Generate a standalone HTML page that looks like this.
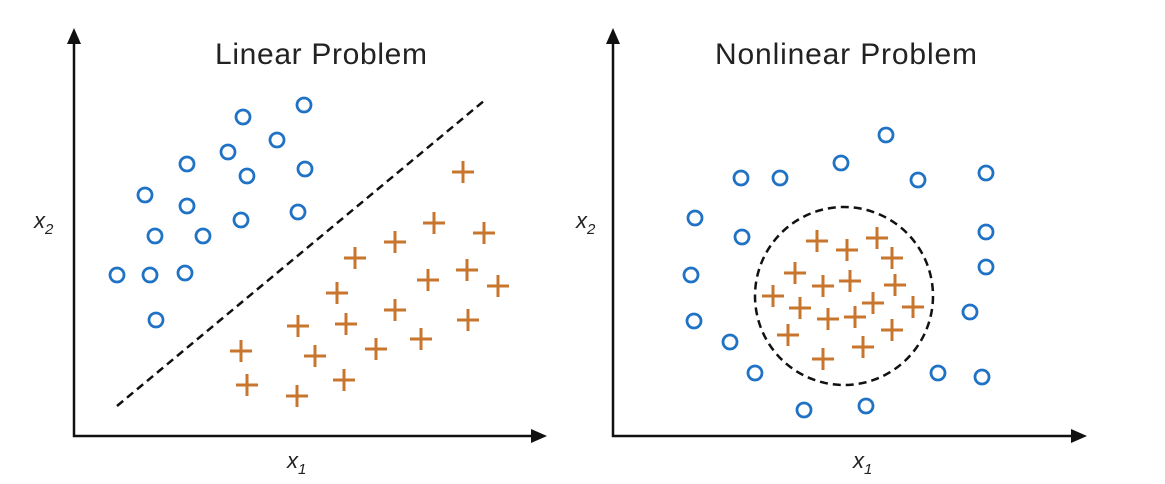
<!DOCTYPE html>
<html><head><style>body{margin:0;background:#fff}svg{display:block}</style></head><body>
<svg width="1165" height="484" viewBox="0 0 1165 484" xmlns="http://www.w3.org/2000/svg">
<defs>
<g id="o"><circle r="7" fill="none" stroke="#1f72c4" stroke-width="2.8"/></g>
<g id="p"><path d="M-11 0H11M0 -11V11" stroke="#c8762e" stroke-width="3"/></g>
</defs>
<g stroke="#111" stroke-width="2.5" fill="none">
<path d="M74 40V436H535"/><path d="M613 40V436H1075"/>
</g>
<g fill="#111">
<path d="M74 28L67 44H81Z"/><path d="M547 436L531 429V443Z"/>
<path d="M613 28L606 44H620Z"/><path d="M1087 436L1071 429V443Z"/>
</g>
<line x1="117" y1="406" x2="485" y2="100" stroke="#111" stroke-width="2.5" stroke-dasharray="8,5"/>
<circle cx="844" cy="296" r="89" fill="none" stroke="#111" stroke-width="2.5" stroke-dasharray="8,5"/>
<g font-family="Liberation Sans, sans-serif" font-size="30" fill="#222" text-anchor="middle">
<text x="321" y="64" textLength="212">Linear Problem</text>
<text x="846" y="64" textLength="262">Nonlinear Problem</text>
</g>
<g font-family="Liberation Sans, sans-serif" font-style="italic" font-size="22" fill="#222">
<text x="34" y="228">x<tspan font-size="15" dy="6">2</tspan></text>
<text x="576" y="228">x<tspan font-size="15" dy="6">2</tspan></text>
<text x="287" y="468">x<tspan font-size="15" dy="6">1</tspan></text>
<text x="853" y="468">x<tspan font-size="15" dy="6">1</tspan></text>
</g>
<g>
<use href="#o" x="304" y="105"/><use href="#o" x="243" y="117"/><use href="#o" x="277" y="140"/><use href="#o" x="187" y="164"/><use href="#o" x="228" y="152"/><use href="#o" x="247" y="176"/><use href="#o" x="305" y="169"/><use href="#o" x="145" y="195"/><use href="#o" x="187" y="206"/><use href="#o" x="155" y="236"/><use href="#o" x="203" y="236"/><use href="#o" x="241" y="220"/><use href="#o" x="298" y="212"/><use href="#o" x="117" y="275"/><use href="#o" x="150" y="275"/><use href="#o" x="185" y="273"/><use href="#o" x="156" y="320"/>
<use href="#o" x="886" y="135"/><use href="#o" x="841" y="163"/><use href="#o" x="741" y="178"/><use href="#o" x="780" y="178"/><use href="#o" x="918" y="180"/><use href="#o" x="986" y="173"/><use href="#o" x="695" y="218"/><use href="#o" x="742" y="237"/><use href="#o" x="986" y="232"/><use href="#o" x="986" y="267"/><use href="#o" x="691" y="275"/><use href="#o" x="694" y="321"/><use href="#o" x="970" y="312"/><use href="#o" x="730" y="342"/><use href="#o" x="755" y="373"/><use href="#o" x="938" y="373"/><use href="#o" x="982" y="377"/><use href="#o" x="804" y="410"/><use href="#o" x="866" y="406"/>
</g>
<g>
<use href="#p" x="463" y="172"/><use href="#p" x="434" y="223"/><use href="#p" x="484" y="233"/><use href="#p" x="395" y="242"/><use href="#p" x="355" y="258"/><use href="#p" x="467" y="270"/><use href="#p" x="428" y="280"/><use href="#p" x="498" y="286"/><use href="#p" x="337" y="293"/><use href="#p" x="395" y="310"/><use href="#p" x="298" y="326"/><use href="#p" x="346" y="324"/><use href="#p" x="468" y="320"/><use href="#p" x="376" y="349"/><use href="#p" x="421" y="339"/><use href="#p" x="241" y="351"/><use href="#p" x="315" y="356"/><use href="#p" x="344" y="380"/><use href="#p" x="247" y="385"/><use href="#p" x="297" y="396"/>
<use href="#p" x="817" y="241"/><use href="#p" x="847" y="250"/><use href="#p" x="877" y="238"/><use href="#p" x="892" y="258"/><use href="#p" x="795" y="273"/><use href="#p" x="823" y="286"/><use href="#p" x="850" y="281"/><use href="#p" x="895" y="285"/><use href="#p" x="773" y="296"/><use href="#p" x="800" y="308"/><use href="#p" x="828" y="319"/><use href="#p" x="855" y="317"/><use href="#p" x="873" y="303"/><use href="#p" x="913" y="307"/><use href="#p" x="788" y="335"/><use href="#p" x="863" y="347"/><use href="#p" x="892" y="330"/><use href="#p" x="823" y="359"/>
</g>
</svg>
</body></html>
